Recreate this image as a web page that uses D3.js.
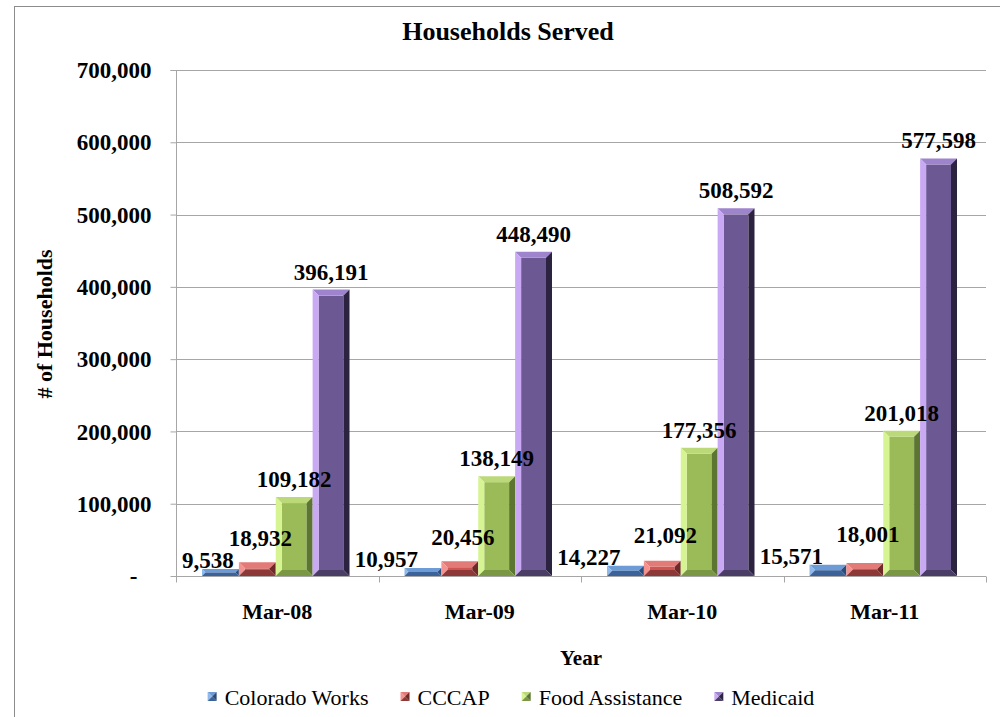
<!DOCTYPE html>
<html>
<head>
<meta charset="utf-8">
<script src="https://cdn.jsdelivr.net/npm/d3@7"></script>
<style>
  html, body { margin: 0; padding: 0; background: #fff; }
  svg { display: block; }
  text { font-family: "Liberation Serif", "Times New Roman", serif; fill: #000; }
</style>
</head>
<body>
<svg id="chart" width="1000" height="717"></svg>
<script>
// ---------- data ----------
const categories = ["Mar-08", "Mar-09", "Mar-10", "Mar-11"];
const seriesNames = ["Colorado Works", "CCCAP", "Food Assistance", "Medicaid"];
const coloradoWorks = [9538, 10957, 14227, 15571];
const cccap = [18932, 20456, 21092, 18001];
const foodAssistance = [109182, 138149, 177356, 201018];
const medicaid = [396191, 448490, 508592, 577598];
const yTicks = [0, 100000, 200000, 300000, 400000, 500000, 600000, 700000];
const titleText = "Households Served";
const xTitle = "Year";
const yTitle = "# of Households";

const seriesValues = [coloradoWorks, cccap, foodAssistance, medicaid];

// ---------- styles ----------
const palettes = [
  { front: "#4f81bd", left: "#8fb8ec", top: "#6d9bd6", right: "#2b4b78", bottom: "#3b6399" },
  { front: "#cf5553", left: "#f49290", top: "#e27a77", right: "#6e2a28", bottom: "#8c3937" },
  { front: "#9bbb59", left: "#d6f492", top: "#bcd97a", right: "#5c7632", bottom: "#7a9844" },
  { front: "#6c5893", left: "#c9a9f3", top: "#9d84cc", right: "#2c2340", bottom: "#4a3d66" }
];
const gridColor = "#a6a6a6";

const svg = d3.select("#chart");
const plot = { left: 176, right: 986, top: 70, bottom: 576 };

// outer chart border
svg.append("rect")
  .attr("x", 14.5).attr("y", 6.5)
  .attr("width", 1100).attr("height", 900)
  .attr("fill", "none").attr("stroke", "#8c8c8c").attr("stroke-width", 1);

// scales
const y = d3.scaleLinear().domain([0, 700000]).range([plot.bottom, plot.top]);
const x0 = d3.scaleBand().domain(categories).range([plot.left, plot.right]).paddingInner(0).paddingOuter(0);
const x1 = d3.scaleBand().domain(seriesNames).range([26, x0.bandwidth() - 29]).padding(0);

// gridlines
svg.append("g").selectAll("line").data(yTicks.filter(d => d > 0)).join("line")
  .attr("x1", plot.left).attr("x2", plot.right)
  .attr("y1", d => Math.round(y(d)) + 0.5).attr("y2", d => Math.round(y(d)) + 0.5)
  .attr("stroke", gridColor).attr("stroke-width", 1);

// y axis
const yAxis = d3.axisLeft(y).tickValues(yTicks).tickSize(6).tickPadding(19)
  .tickFormat(d => d === 0 ? "-" : d3.format(",")(d));
const yg = svg.append("g").attr("transform", `translate(${plot.left + 0.5},0)`).call(yAxis);
yg.select(".domain").attr("stroke", gridColor).attr("d", `M-6,${plot.top + 0.5}H0V${plot.bottom + 6}`);
yg.selectAll(".tick line").attr("stroke", gridColor);
yg.selectAll(".tick text")
  .style("font-family", '"Liberation Serif", serif')
  .style("font-weight", "bold").style("font-size", "23px")
  .attr("dy", "0.33em")
  .attr("dx", d => d === 0 ? -14 : 0);

// x axis
const xAxis = d3.axisBottom(x0).tickSize(0).tickPadding(27);
const xg = svg.append("g").attr("transform", `translate(0,${plot.bottom + 0.5})`).call(xAxis);
xg.select(".domain").attr("stroke", gridColor).attr("d", `M${plot.left},0H${plot.right}`);
xg.selectAll(".tick text")
  .style("font-family", '"Liberation Serif", serif')
  .style("font-weight", "bold").style("font-size", "22px");
// category boundary ticks
const boundaries = categories.map(c => x0(c)).concat([x0(categories[categories.length - 1]) + x0.bandwidth()]);
xg.append("g").selectAll("line").data(boundaries).join("line")
  .attr("x1", d => Math.round(d) + 0.5).attr("x2", d => Math.round(d) + 0.5)
  .attr("y1", 0).attr("y2", 6).attr("stroke", gridColor);

// bars with bevel
const barsG = svg.append("g");
const labelsG = svg.append("g");
const labelFont = { size: 23 };

categories.forEach((cat, ci) => {
  let blueLabelTop = null;
  seriesNames.forEach((s, si) => {
    const v = seriesValues[si][ci];
    const xa = x0(cat) + x1(s);
    const xb = xa + x1.bandwidth();
    const yt = y(v), yb = y(0);
    const b = Math.min(6, (yb - yt) / 2, (xb - xa) / 2);
    const p = palettes[si];
    const g = barsG.append("g");
    g.append("rect").attr("x", xa + b).attr("y", yt + b)
      .attr("width", Math.max(0, xb - xa - 2 * b)).attr("height", Math.max(0, yb - yt - 2 * b))
      .attr("fill", p.front);
    const poly = (pts, fill) => g.append("polygon").attr("points", pts.map(q => q.join(",")).join(" ")).attr("fill", fill);
    poly([[xa, yt], [xb, yt], [xb - b, yt + b], [xa + b, yt + b]], p.top);
    poly([[xa, yt], [xa + b, yt + b], [xa + b, yb - b], [xa, yb]], p.left);
    poly([[xb, yt], [xb, yb], [xb - b, yb - b], [xb - b, yt + b]], p.right);
    poly([[xa, yb], [xb, yb], [xb - b, yb - b], [xa + b, yb - b]], p.bottom);

    // data label
    const t = labelsG.append("text")
      .style("font-weight", "bold").style("font-size", labelFont.size + "px")
      .text(d3.format(",")(v));
    const cx = (xa + xb) / 2;
    if (si === 0) {
      const w = t.node().getComputedTextLength();
      const xEnd = Math.max(cx - 5, plot.left + 6 + w);
      const base = yt - 1;
      t.attr("x", xEnd).attr("y", base).attr("text-anchor", "end");
      blueLabelTop = base - 17;
    } else if (si === 1) {
      let base = yt - 10;
      if (blueLabelTop !== null) base = Math.min(base, blueLabelTop - 5);
      t.attr("x", cx + 3).attr("y", base).attr("text-anchor", "middle");
    } else {
      t.attr("x", cx).attr("y", yt - 10).attr("text-anchor", "middle");
    }
  });
});

// title
svg.append("text").attr("x", 508).attr("y", 40).attr("text-anchor", "middle")
  .style("font-weight", "bold").style("font-size", "26px").text(titleText);

// axis titles
svg.append("text").attr("x", (plot.left + plot.right) / 2).attr("y", 665).attr("text-anchor", "middle")
  .style("font-weight", "bold").style("font-size", "21px").text(xTitle);
svg.append("text").attr("transform", `translate(52,324) rotate(-90)`).attr("text-anchor", "middle")
  .style("font-weight", "bold").style("font-size", "22px").text(yTitle);

// legend
const legend = svg.append("g");
let lx = 0;
seriesNames.forEach((s, si) => {
  const g = legend.append("g").attr("transform", `translate(${lx},0)`);
  const p = palettes[si];
  const m = 9, c = m / 2;
  const tri = (pts, fill) => g.append("polygon").attr("points", pts.map(q => q.join(",")).join(" ")).attr("fill", fill);
  tri([[0, -m], [m, -m], [c, -c]], p.top);
  tri([[0, -m], [c, -c], [0, 0]], p.left);
  tri([[m, -m], [m, 0], [c, -c]], p.right);
  tri([[0, 0], [m, 0], [c, -c]], p.bottom);
  const t = g.append("text").attr("x", 17).attr("y", 4)
    .style("font-size", "22px").text(s);
  const w = t.node().getComputedTextLength();
  lx += 17 + w + 32;
});
const legendWidth = lx - 32;
legend.attr("transform", `translate(${511 - legendWidth / 2},701)`);
</script>
</body>
</html>
